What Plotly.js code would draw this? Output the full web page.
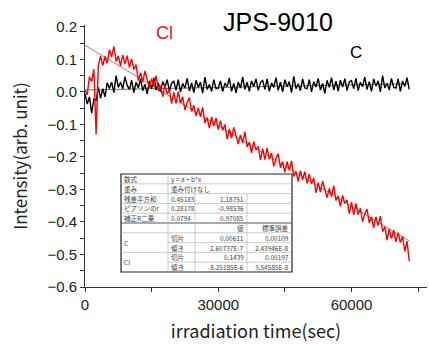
<!DOCTYPE html>
<html><head><meta charset="utf-8">
<script src="https://cdn.plot.ly/plotly-3.0.1.min.js"></script>
<style>html,body{margin:0;padding:0;background:#fff}#chart{width:429px;height:344px}</style>
</head><body><div id="chart"></div>
<script>
// ---- data ----
const timeStart = 0;      // sec
const timeStep = 500;     // sec between samples
const clIntensity = [
 0.005,-0.008,0.047,0.032,0.07,-0.13,0.081,0.11,0.081,0.109,
 0.088,0.13,0.108,0.14,0.094,0.111,0.08,0.114,0.086,0.112,
 0.076,0.102,0.069,0.084,0.035,0.059,0.030,0.065,0.038,0.013,
 0.041,0.016,0.050,0.004,0.019,-0.014,0.020,-0.005,0.006,-0.036,
 -0.001,-0.035,0.001,-0.034,-0.015,-0.056,-0.032,-0.017,-0.060,-0.041,
 -0.074,-0.049,-0.076,-0.047,-0.095,-0.079,-0.111,-0.077,-0.105,-0.080,
 -0.116,-0.088,-0.118,-0.100,-0.145,-0.114,-0.143,-0.109,-0.135,-0.160,
 -0.132,-0.157,-0.123,-0.169,-0.154,-0.187,-0.153,-0.178,-0.167,-0.209,
 -0.174,-0.208,-0.172,-0.207,-0.188,-0.229,-0.205,-0.190,-0.233,-0.214,
 -0.247,-0.214,-0.241,-0.212,-0.260,-0.244,-0.276,-0.242,-0.270,-0.245,
 -0.281,-0.253,-0.283,-0.265,-0.310,-0.279,-0.308,-0.274,-0.300,-0.325,
 -0.297,-0.322,-0.288,-0.334,-0.320,-0.352,-0.318,-0.343,-0.332,-0.374,
 -0.339,-0.378,-0.343,-0.377,-0.358,-0.399,-0.375,-0.360,-0.403,-0.384,
 -0.418,-0.384,-0.411,-0.382,-0.430,-0.414,-0.456,-0.422,-0.451,-0.425,
 -0.461,-0.433,-0.463,-0.445,-0.490,-0.459,-0.520
];
const cIntensity = [
 -0.005,-0.037,-0.015,-0.065,-0.022,-0.026,0.014,-0.02,0.01,-0.015,
 0.028,0.011,0.03,-0.002,0.05,0.014,0.03,0.01,0.047,0.02,
 0.008,0.036,-0.002,0.03,0.013,0.04,0.004,0.024,-0.006,0.034,
 0.01,0.044,0.006,0.028,0.0,0.032,0.015,0.038,0.003,0.027,
 0.033,0.006,0.038,0.0,0.026,0.012,0.042,0.003,0.028,-0.002,
 0.036,0.014,0.03,-0.004,0.046,0.008,0.023,0.002,0.038,0.01,
 0.012,0.034,0.001,0.027,0.016,0.043,0.002,0.026,-0.003,0.031,
 0.012,0.046,0.008,0.03,0.002,0.034,0.017,0.04,0.005,0.029,
 0.035,0.008,0.04,0.002,0.028,0.014,0.044,0.005,0.03,0.0,
 0.038,0.016,0.032,-0.002,0.048,0.01,0.025,0.004,0.04,0.012,
 0.01,0.038,0.0,0.032,0.015,0.042,0.006,0.026,-0.004,0.036,
 0.014,0.044,0.006,0.033,0.003,0.036,0.015,0.041,0.004,0.031,
 0.035,0.01,0.042,0.004,0.03,0.016,0.046,0.007,0.032,0.002,
 0.04,0.018,0.034,0.0,0.05,0.012,0.027,0.006,0.042,0.014,
 0.012,0.04,0.002,0.034,0.017,0.044,0.008
];
const fitNames = ['C', 'Cl'];
const fitIntercepts = [0.00611, 0.1439];
const fitSlopes = [2.60737e-7, -8.25185e-6];
const fitRange = [0, 73000];
const xTickVals = [0, 30000, 60000];
const tableRows = [
  ['数式', 'y = a + b*x', '', ''],
  ['重み', '重み付けなし', '', ''],
  ['残差平方和', '0.45183', '1.18751', ''],
  ['ピアソンのr', '0.28178', '-0.98536', ''],
  ['補正R二乗', '0.0794', '0.97085', ''],
  ['', '', '値', '標準誤差'],
  ['C', '切片', '0.00611', '0.00109'],
  ['', '傾き', '2.60737E-7', '2.43946E-8'],
  ['Cl', '切片', '0.1439', '0.00197'],
  ['', '傾き', '-8.25185E-6', '3.54585E-8']
];

// ---- geometry helpers (pixel -> paper) ----
const W = 429, H = 344;
const PL = 85, PR = 427, PT = 25, PB = 287;
const px = x => (x - PL) / (PR - PL);
const py = y => (PB - y) / (PB - PT);

const traces = [];
// fit lines (from table parameters)
const fitColors = ['#444444', '#c04848'];
fitNames.forEach((n, k) => {
  traces.push({
    type: 'scatter', mode: 'lines', name: n + ' fit',
    x: fitRange, y: fitRange.map(t => fitIntercepts[k] + fitSlopes[k] * t),
    line: {color: fitColors[k], width: 0.8}, hoverinfo: 'skip'
  });
});
traces.push({type: 'scatter', mode: 'lines', name: 'C', x0: timeStart, dx: timeStep,
  y: cIntensity, line: {color: '#000000', width: 1.4}});
traces.push({type: 'scatter', mode: 'lines', name: 'Cl', x0: timeStart, dx: timeStep,
  y: clIntensity, line: {color: '#ff0000', width: 1.4}});

// ---- inset table ----
const colEdges = [121, 168, 195, 247, 292];
const tTop = 174, tBot = 272;
const rowH = (tBot - tTop) / tableRows.length;
const shapes = [];
const annotations = [];
shapes.push({type: 'rect', xref: 'paper', yref: 'paper', layer: 'above',
  x0: px(colEdges[0]), x1: px(colEdges[4]), y0: py(tTop), y1: py(tBot),
  fillcolor: '#ffffff', line: {color: '#222', width: 1.2}});
for (let i = 1; i < tableRows.length; i++) {
  const yy = tTop + i * rowH;
  const merged = (i === 7 || i === 9);
  shapes.push({type: 'line', xref: 'paper', yref: 'paper', layer: 'above',
    x0: px(merged ? colEdges[1] : colEdges[0]), x1: px(colEdges[4]), y0: py(yy), y1: py(yy),
    line: {color: i === 5 ? '#555' : '#aaa', width: i === 5 ? 1 : 0.6}});
}
shapes.push({type: 'line', xref: 'paper', yref: 'paper', layer: 'above',
  x0: px(colEdges[1]), x1: px(colEdges[1]), y0: py(tTop), y1: py(tBot), line: {color: '#aaa', width: 0.6}});
[2, 3].forEach(c => shapes.push({type: 'line', xref: 'paper', yref: 'paper', layer: 'above',
  x0: px(colEdges[c]), x1: px(colEdges[c]), y0: py(tTop + 2 * rowH), y1: py(tBot), line: {color: '#aaa', width: 0.6}}));

const tFont = {family: 'Noto Sans CJK JP, sans-serif', size: 6.5, color: '#444'};
tableRows.forEach((row, r) => {
  row.forEach((txt, c) => {
    if (!txt) return;
    let yc = tTop + (r + 0.5) * rowH;
    if (c === 0 && r >= 6) yc = tTop + (r + 1) * rowH; // merged group label
    const right = c >= 2;
    annotations.push({xref: 'paper', yref: 'paper', showarrow: false, text: txt,
      x: px(right ? colEdges[c + 1] - 2 : colEdges[c] + 2), y: py(yc),
      xanchor: right ? 'right' : 'left', yanchor: 'middle', font: tFont, borderpad: 0});
  });
});

// ---- labels ----
annotations.push({xref: 'paper', yref: 'paper', showarrow: false, text: 'JPS-9010',
  x: px(278), y: py(22), xanchor: 'center', yanchor: 'middle',
  font: {family: 'Liberation Sans, Arial, sans-serif', size: 25, color: '#000'}});
annotations.push({xref: 'paper', yref: 'paper', showarrow: false, text: 'Cl',
  x: px(164), y: py(33), xanchor: 'center', yanchor: 'middle',
  font: {family: 'Liberation Sans, Arial, sans-serif', size: 18, color: '#d42020'}});
annotations.push({xref: 'paper', yref: 'paper', showarrow: false, text: 'C',
  x: px(356), y: py(52), xanchor: 'center', yanchor: 'middle',
  font: {family: 'Liberation Sans, Arial, sans-serif', size: 17, color: '#000'}});

const tickFont = {family: 'Liberation Sans, Arial, sans-serif', size: 15, color: '#222'};
const layout = {
  width: W, height: H,
  margin: {l: PL, r: W - PR, t: PT, b: H - PB, pad: 0},
  paper_bgcolor: '#fff', plot_bgcolor: '#fff',
  showlegend: false,
  xaxis: {
    range: [0, 77000], showgrid: false, zeroline: false,
    showline: true, linecolor: '#333', linewidth: 1,
    ticks: 'outside', ticklen: 4, tickcolor: '#333',
    tickmode: 'array', tickvals: xTickVals, tickformat: 'd',
    minor: {dtick: 15000, tick0: 0, ticks: 'outside', ticklen: 4, tickcolor: '#333'},
    tickfont: tickFont,
    title: {text: 'irradiation time(sec)', standoff: 13,
      font: {family: 'Noto Sans CJK JP, sans-serif', size: 18, color: '#222'}}
  },
  yaxis: {
    range: [-0.6, 0.206], showgrid: false, zeroline: false,
    showline: true, linecolor: '#333', linewidth: 1,
    ticks: 'outside', ticklen: 4, tickcolor: '#333',
    tick0: 0, dtick: 0.1, tickformat: '.1f',
    minor: {dtick: 0.05, ticks: 'outside', ticklen: 4, tickcolor: '#333'},
    tickfont: tickFont,
    title: {text: 'Intensity(arb. unit)', standoff: 15,
      font: {family: 'Noto Sans CJK JP, sans-serif', size: 17, color: '#222'}}
  },
  shapes: shapes,
  annotations: annotations
};
Plotly.newPlot('chart', traces, layout, {displayModeBar: false, staticPlot: true});
</script></body></html>
